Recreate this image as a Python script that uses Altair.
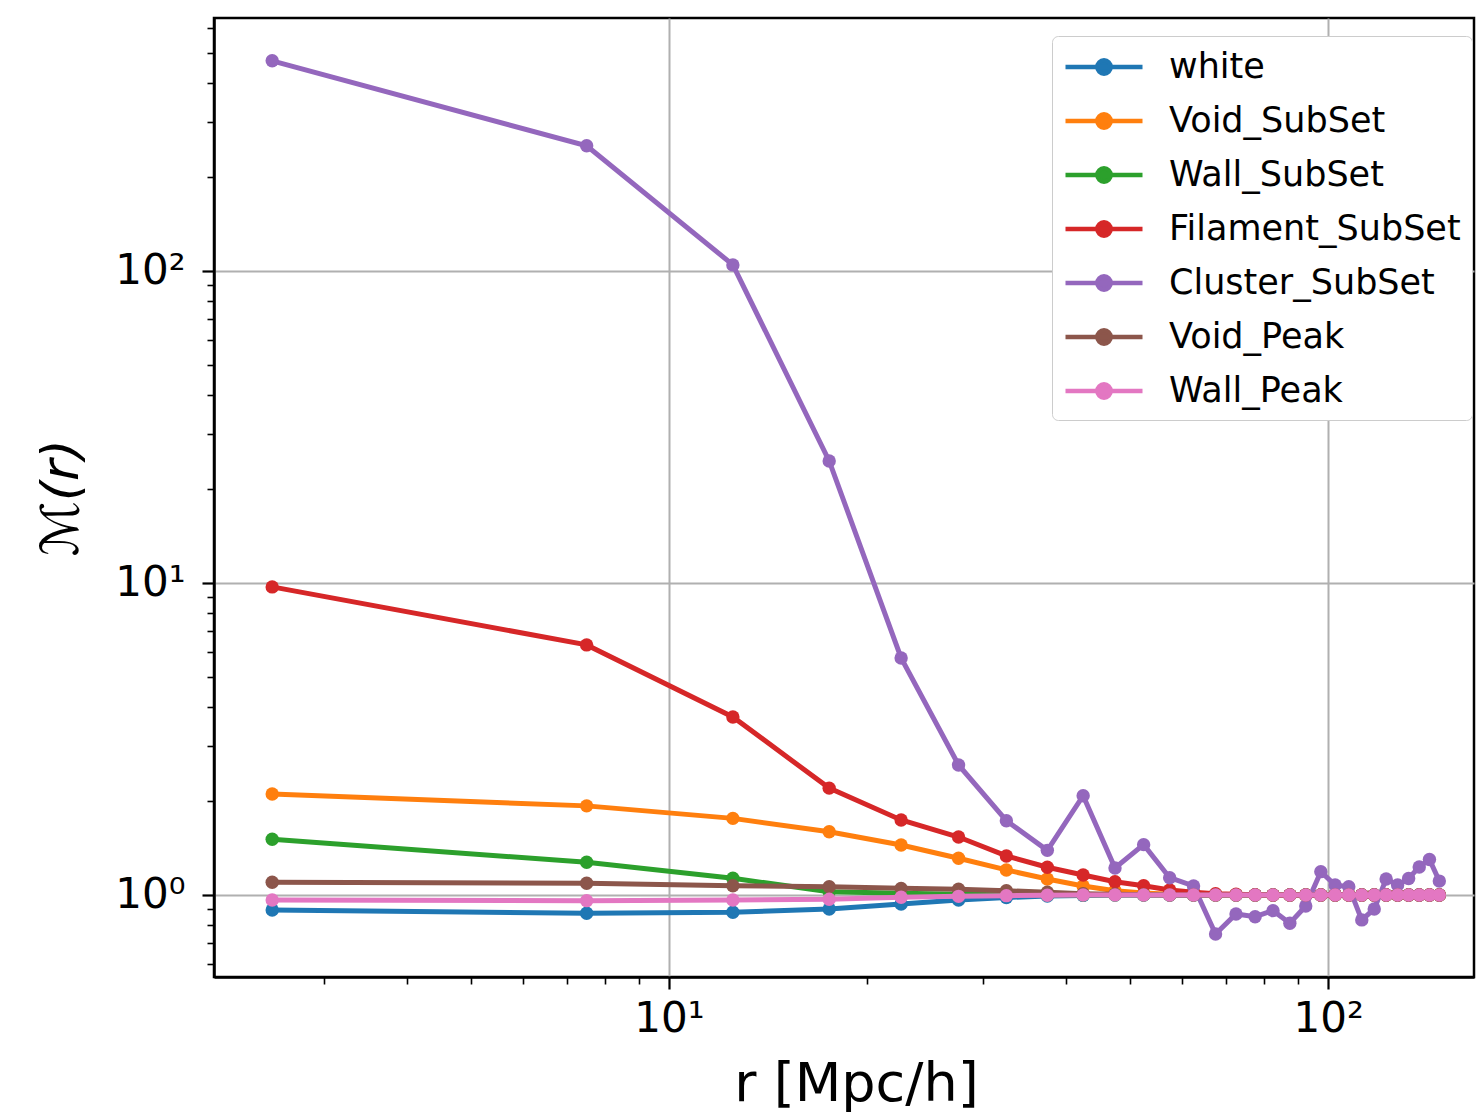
import altair as alt
import pandas as pd

# ---------------- data ----------------
r_vals = [2.5, 7.5, 12.5, 17.5, 22.5, 27.5, 32.5, 37.5, 42.5, 47.5,
          52.5, 57.5, 62.5, 67.5, 72.5, 77.5, 82.5, 87.5, 92.5, 97.5,
          102.5, 107.5, 112.5, 117.5, 122.5, 127.5, 132.5, 137.5, 142.5, 147.5]

series_names = ["white", "Void_SubSet", "Wall_SubSet", "Filament_SubSet",
                "Cluster_SubSet", "Void_Peak", "Wall_Peak"]
colors = ["#1f77b4", "#ff7f0e", "#2ca02c", "#d62728",
          "#9467bd", "#8c564b", "#e377c2"]

white = [0.895, 0.874, 0.880, 0.902, 0.936, 0.964, 0.982, 0.992, 0.997, 0.999,
         1.0, 1.0, 1.0, 1.0, 1.0, 1.0, 1.0, 1.0, 1.0, 1.0,
         1.0, 1.0, 1.0, 1.0, 1.0, 1.0, 1.0, 1.0, 1.0, 1.0]
void_subset = [2.107, 1.93, 1.76, 1.595, 1.446, 1.311, 1.203, 1.125, 1.069, 1.032,
               1.015, 1.006, 1.002, 1.0, 1.0, 1.0, 1.0, 1.0, 1.0, 1.0,
               1.0, 1.0, 1.0, 1.0, 1.0, 1.0, 1.0, 1.0, 1.0, 1.0]
wall_subset = [1.508, 1.273, 1.131, 1.024, 1.012, 1.005, 1.002, 1.0, 1.0, 1.0,
               1.0, 1.0, 1.0, 1.0, 1.0, 1.0, 1.0, 1.0, 1.0, 1.0,
               1.0, 1.0, 1.0, 1.0, 1.0, 1.0, 1.0, 1.0, 1.0, 1.0]
filament_subset = [9.71, 6.33, 3.72, 2.20, 1.74, 1.534, 1.334, 1.227, 1.159, 1.103,
                   1.071, 1.037, 1.02, 1.01, 1.005, 1.002, 1.0, 1.0, 1.0, 1.0,
                   1.0, 1.0, 1.0, 1.0, 1.0, 1.0, 1.0, 1.0, 1.0, 1.0]
cluster_subset = [471.0, 251.6, 104.5, 24.6, 5.75, 2.61, 1.73, 1.39, 2.08, 1.22,
                  1.45, 1.136, 1.069, 0.75, 0.869, 0.852, 0.891, 0.812, 0.922, 1.188,
                  1.076, 1.063, 0.832, 0.902, 1.125, 1.076, 1.13, 1.23, 1.30, 1.108]
void_peak = [1.098, 1.090, 1.071, 1.063, 1.05, 1.043, 1.032, 1.02, 1.01, 1.005,
             1.002, 1.0, 1.0, 1.0, 1.0, 1.0, 1.0, 1.0, 1.0, 1.0,
             1.0, 1.0, 1.0, 1.0, 1.0, 1.0, 1.0, 1.0, 1.0, 1.0]
wall_peak = [0.964, 0.959, 0.964, 0.969, 0.983, 0.99, 0.995, 0.998, 1.0, 1.0,
             1.0, 1.0, 1.0, 1.0, 1.0, 1.0, 1.0, 1.0, 1.0, 1.0,
             1.0, 1.0, 1.0, 1.0, 1.0, 1.0, 1.0, 1.0, 1.0, 1.0]

all_series = [white, void_subset, wall_subset, filament_subset,
              cluster_subset, void_peak, wall_peak]

x_tick_values = [3, 4, 5, 6, 7, 8, 9, 10, 20, 30, 40, 50, 60, 70, 80, 90, 100]
y_tick_values = [0.6, 0.7, 0.8, 0.9, 1, 2, 3, 4, 5, 6, 7, 8, 9, 10,
                 20, 30, 40, 50, 60, 70, 80, 90, 100, 200, 300, 400, 500, 600]

rows = []
for name, vals in zip(series_names, all_series):
    for rv, mv in zip(r_vals, vals):
        rows.append({"r": rv, "M": mv, "series": name})
df = pd.DataFrame(rows)

FONT = "DejaVu Sans"

x_major = "datum.value == 10 || datum.value == 100"
y_major = "datum.value == 1 || datum.value == 10 || datum.value == 100"

common_axis = dict(
    labelFont=FONT,
    titleFont=FONT,
    labelColor="black",
    titleColor="black",
    domainColor="black",
    domainWidth=2.5,
    tickColor="black",
    gridColor="#b0b0b0",
    gridWidth=2,
    labelFlush=False,
    labelOverlap=False,
    titleFontWeight="normal",
)

x_enc = alt.X(
    "r:Q",
    scale=alt.Scale(type="log", domain=[2.04, 166.5], nice=False),
    axis=alt.Axis(
        values=x_tick_values,
        labelExpr="datum.value == 10 ? '10¹' : (datum.value == 100 ? '10²' : '')",
        tickSize={"condition": {"test": x_major, "value": 12}, "value": 7},
        tickWidth={"condition": {"test": x_major, "value": 2.2}, "value": 1.6},
        gridOpacity={"condition": {"test": x_major, "value": 1}, "value": 0},
        title="r [Mpc/h]",
        titleFontSize=54,
        titlePadding=18,
        titleX=642,
        labelFontSize=42,
        labelPadding=9,
        **common_axis,
    ),
)
y_enc = alt.Y(
    "M:Q",
    scale=alt.Scale(type="log", domain=[0.546, 646], nice=False),
    axis=alt.Axis(
        values=y_tick_values,
        labelExpr="datum.value == 1 ? '10⁰' : (datum.value == 10 ? '10¹' : (datum.value == 100 ? '10²' : ''))",
        tickSize={"condition": {"test": y_major, "value": 12}, "value": 7},
        tickWidth={"condition": {"test": y_major, "value": 2.2}, "value": 1.6},
        gridOpacity={"condition": {"test": y_major, "value": 1}, "value": 0},
        title="ℳ(r)",
        titleFontSize=52,
        titleFontStyle="italic",
        titlePadding=26,
        labelFontSize=42,
        labelPadding=17,
        **common_axis,
    ),
)

legend_path = ("M-2.2,0L2.2,0"
               "M-0.38,0A0.38,0.38,0,1,1,0.38,0A0.38,0.38,0,1,1,-0.38,0Z")

color_enc = alt.Color(
    "series:N",
    scale=alt.Scale(domain=series_names, range=colors),
    legend=alt.Legend(
        title=None,
        orient="none",
        legendX=838,
        legendY=18,
        symbolType=legend_path,
        symbolSize=1225,
        symbolStrokeWidth=4.5,
        symbolOffset=21,
        labelOffset=45,
        labelFontSize=35,
        labelFont=FONT,
        labelColor="black",
        labelLimit=0,
        rowPadding=16,
        padding=11,
        fillColor="white",
        strokeColor="#cccccc",
        cornerRadius=6,
    ),
)

layers = []
for name in series_names:
    base = alt.Chart(df).transform_filter(alt.datum.series == name)
    line = base.mark_line(strokeWidth=5, clip=False).encode(
        x=x_enc, y=y_enc, color=color_enc, order="r:Q")
    pts = base.mark_circle(size=180, opacity=1, clip=False).encode(
        x=x_enc, y=y_enc, color=color_enc)
    layers.extend([line, pts])

chart = alt.layer(*layers).properties(
    width=1260,
    height=959,
    background="white",
    autosize=alt.AutoSizeParams(type="none"),
    padding={"left": 214, "top": 18, "right": 2, "bottom": 141},
).configure_view(
    stroke="black", strokeWidth=2.5
)

chart.save("out.html", embed_options={"renderer": "svg", "actions": False})
